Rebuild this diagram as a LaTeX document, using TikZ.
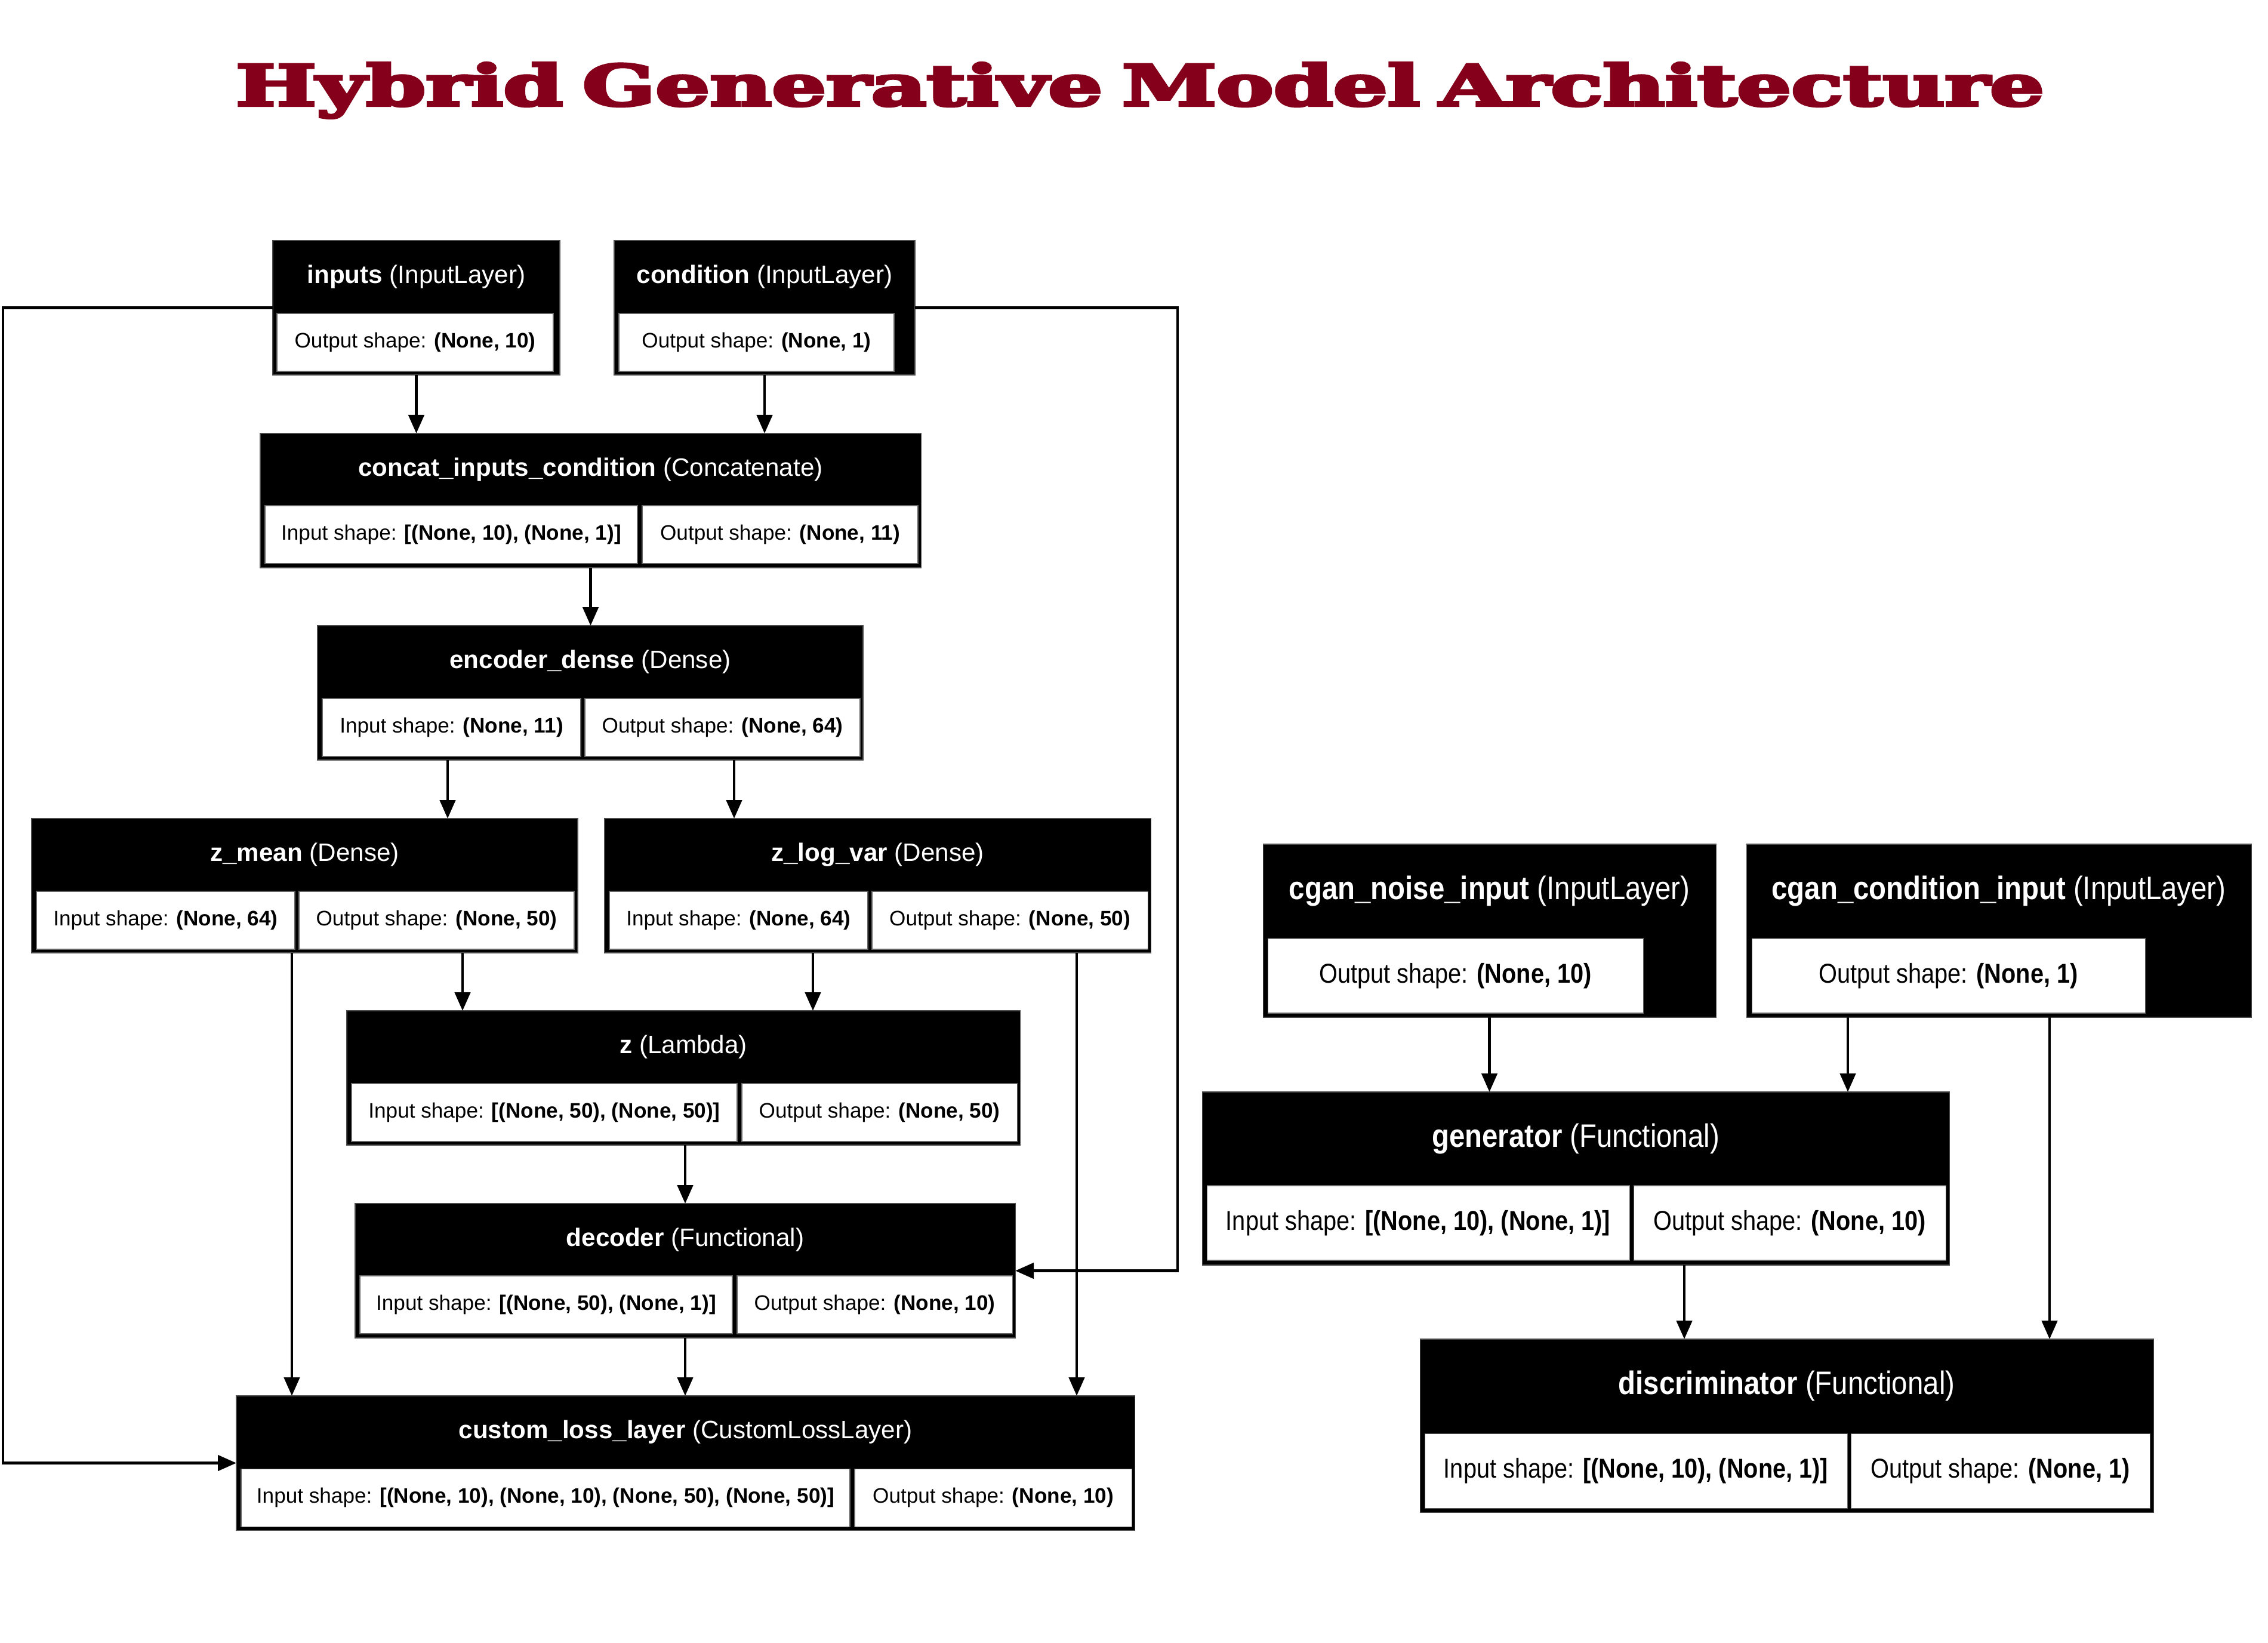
\documentclass[tikz,border=0pt]{standalone}
\usepackage{fontspec}
\usepackage{graphicx}
\usepackage{xcolor}
\setmainfont{Liberation Sans}
\newfontfamily\narrowsf[FakeStretch=0.87]{Liberation Sans}
\newfontfamily\titlefont[FakeBold=4.5]{DejaVu Serif}
\usetikzlibrary{arrows.meta,calc}
\definecolor{titlered}{RGB}{133,0,26}

\begin{document}
\begin{tikzpicture}[
  lbox/.style={fill=black,draw=black!70,line width=0.3pt,inner sep=0pt,outer sep=0pt,
               anchor=north west,minimum height=2.25cm},
  rbox/.style={lbox,minimum height=2.90cm},
  htxt/.style={text=white,font=\fontsize{12}{14}\selectfont,inner sep=0pt},
  rhtxt/.style={text=white,font=\narrowsf\fontsize{15.5}{18}\selectfont,inner sep=0pt},
  sbox/.style={fill=white,draw=black!60,line width=0.3pt,inner sep=0pt,outer sep=0pt,
               anchor=north west,minimum height=0.97cm,font=\fontsize{10}{12}\selectfont},
  rsbox/.style={sbox,minimum height=1.25cm,font=\narrowsf\fontsize{13}{15}\selectfont},
  arr/.style={-{Triangle[length=0.31cm,width=0.26cm]},line width=1.35pt}]
\useasboundingbox (0,0) rectangle (38,-27.52);
\fill[white] (0,0) rectangle (38,-27.52);

\node[font=\titlefont\bfseries\fontsize{27}{30}\selectfont,text=titlered,anchor=base,
      inner sep=0pt] (title) at (19.10,-1.77)
  {\resizebox{30.3cm}{\height}{Hybrid\hspace{-0.12em} Generative\hspace{-0.12em} Model\hspace{-0.12em} Architecture}};

% conditional VAE part
\node[lbox,minimum width=4.81cm] (inputs) at (4.57,-4.03) {};
\node[htxt] (inputs-h) at ([yshift=-0.61cm]inputs.north) {\textbf{inputs} (InputLayer)};
\node[sbox,minimum width=4.63cm] (inputs-o) at (4.64,-5.25) {Output shape: \textbf{(None, 10)}};

\node[lbox,minimum width=5.04cm] (condition) at (10.29,-4.03) {};
\node[htxt] (condition-h) at ([yshift=-0.61cm]condition.north) {\textbf{condition} (InputLayer)};
\node[sbox,minimum width=4.61cm] (condition-o) at (10.37,-5.25) {Output shape: \textbf{(None, 1)}};

\node[lbox,minimum width=11.07cm] (concat) at (4.36,-7.26) {};
\node[htxt] (concat-h) at ([yshift=-0.61cm]concat.north) {\textbf{concat\_inputs\_condition} (Concatenate)};
\node[sbox,minimum width=6.24cm] (concat-i) at (4.44,-8.47) {Input shape: \textbf{[(None, 10), (None, 1)]}};
\node[sbox,minimum width=4.62cm] (concat-o) at (10.76,-8.47) {Output shape: \textbf{(None, 11)}};

\node[lbox,minimum width=9.14cm] (encoder) at (5.32,-10.48) {};
\node[htxt] (encoder-h) at ([yshift=-0.61cm]encoder.north) {\textbf{encoder\_dense} (Dense)};
\node[sbox,minimum width=4.33cm] (encoder-i) at (5.40,-11.70) {Input shape: \textbf{(None, 11)}};
\node[sbox,minimum width=4.61cm] (encoder-o) at (9.80,-11.70) {Output shape: \textbf{(None, 64)}};

\node[lbox,minimum width=9.15cm] (zmean) at (0.53,-13.71) {};
\node[htxt] (zmean-h) at ([yshift=-0.61cm]zmean.north) {\textbf{z\_mean} (Dense)};
\node[sbox,minimum width=4.33cm] (zmean-i) at (0.61,-14.93) {Input shape: \textbf{(None, 64)}};
\node[sbox,minimum width=4.61cm] (zmean-o) at (5.01,-14.93) {Output shape: \textbf{(None, 50)}};

\node[lbox,minimum width=9.15cm] (zlogvar) at (10.13,-13.71) {};
\node[htxt] (zlogvar-h) at ([yshift=-0.61cm]zlogvar.north) {\textbf{z\_log\_var} (Dense)};
\node[sbox,minimum width=4.33cm] (zlogvar-i) at (10.21,-14.93) {Input shape: \textbf{(None, 64)}};
\node[sbox,minimum width=4.62cm] (zlogvar-o) at (14.61,-14.93) {Output shape: \textbf{(None, 50)}};

\node[lbox,minimum width=11.28cm] (z) at (5.81,-16.93) {};
\node[htxt] (z-h) at ([yshift=-0.61cm]z.north) {\textbf{z} (Lambda)};
\node[sbox,minimum width=6.46cm] (z-i) at (5.89,-18.15) {Input shape: \textbf{[(None, 50), (None, 50)]}};
\node[sbox,minimum width=4.61cm] (z-o) at (12.43,-18.15) {Output shape: \textbf{(None, 50)}};

\node[lbox,minimum width=11.06cm] (decoder) at (5.95,-20.16) {};
\node[htxt] (decoder-h) at ([yshift=-0.61cm]decoder.north) {\textbf{decoder} (Functional)};
\node[sbox,minimum width=6.24cm] (decoder-i) at (6.03,-21.37) {Input shape: \textbf{[(None, 50), (None, 1)]}};
\node[sbox,minimum width=4.61cm] (decoder-o) at (12.35,-21.37) {Output shape: \textbf{(None, 10)}};

\node[lbox,minimum width=15.05cm] (custom) at (3.96,-23.38) {};
\node[htxt] (custom-h) at ([yshift=-0.61cm]custom.north) {\textbf{custom\_loss\_layer} (CustomLossLayer)};
\node[sbox,minimum width=10.20cm] (custom-i) at (4.04,-24.60)
  {Input shape: \textbf{[(None, 10), (None, 10), (None, 50), (None, 50)]}};
\node[sbox,minimum width=4.64cm] (custom-o) at (14.32,-24.60) {Output shape: \textbf{(None, 10)}};

% conditional GAN part
\node[rbox,minimum width=7.59cm] (noise) at (21.16,-14.14) {};
\node[rhtxt] (noise-h) at ([yshift=-0.785cm]noise.north) {\textbf{cgan\_noise\_input} (InputLayer)};
\node[rsbox,minimum width=6.29cm] (noise-o) at (21.24,-15.72) {Output shape: \textbf{(None, 10)}};

\node[rbox,minimum width=8.46cm] (cgancond) at (29.26,-14.14) {};
\node[rhtxt] (cgancond-h) at ([yshift=-0.785cm]cgancond.north) {\textbf{cgan\_condition\_input} (InputLayer)};
\node[rsbox,minimum width=6.59cm] (cgancond-o) at (29.35,-15.72) {Output shape: \textbf{(None, 1)}};

\node[rbox,minimum width=12.52cm] (generator) at (20.14,-18.29) {};
\node[rhtxt] (generator-h) at ([yshift=-0.785cm]generator.north) {\textbf{generator} (Functional)};
\node[rsbox,minimum width=7.08cm] (generator-i) at (20.22,-19.86) {Input shape: \textbf{[(None, 10), (None, 1)]}};
\node[rsbox,minimum width=5.23cm] (generator-o) at (27.37,-19.86) {Output shape: \textbf{(None, 10)}};

\node[rbox,minimum width=12.29cm] (disc) at (23.79,-22.43) {};
\node[rhtxt] (disc-h) at ([yshift=-0.785cm]disc.north) {\textbf{discriminator} (Functional)};
\node[rsbox,minimum width=7.08cm] (disc-i) at (23.87,-24.01) {Input shape: \textbf{[(None, 10), (None, 1)]}};
\node[rsbox,minimum width=5.01cm] (disc-o) at (31.01,-24.01) {Output shape: \textbf{(None, 1)}};

% connectors
\coordinate (lft) at (0.05,0);
\coordinate (rgt) at (19.73,0);
\draw[arr] (inputs.south) -- (inputs.south |- concat.north);
\draw[arr] (condition.south) -- (condition.south |- concat.north);
\draw[arr] (concat.south) -- (concat.south |- encoder.north);
\draw[arr] (7.50,0 |- encoder.south) -- (7.50,0 |- zmean.north);
\draw[arr] (12.30,0 |- encoder.south) -- (12.30,0 |- zlogvar.north);
\draw[arr] (7.75,0 |- zmean.south) -- (7.75,0 |- z.north);
\draw[arr] (13.62,0 |- zlogvar.south) -- (13.62,0 |- z.north);
\draw[arr] (11.48,0 |- z.south) -- (11.48,0 |- decoder.north);
\draw[arr] (11.48,0 |- decoder.south) -- (11.48,0 |- custom.north);
\draw[arr] (4.89,0 |- zmean.south) -- (4.89,0 |- custom.north);
\draw[arr] (18.04,0 |- zlogvar.south) -- (18.04,0 |- custom.north);
\draw[arr] (inputs.west) -- (lft |- inputs.west) |- (custom.west);
\draw[arr] (condition.east) -- (rgt |- condition.east) |- (decoder.east);

\draw[arr] (noise.south) -- (noise.south |- generator.north);
\draw[arr] (30.96,0 |- cgancond.south) -- (30.96,0 |- generator.north);
\draw[arr] (34.34,0 |- cgancond.south) -- (34.34,0 |- disc.north);
\draw[arr] (28.22,0 |- generator.south) -- (28.22,0 |- disc.north);
\end{tikzpicture}
\end{document}
